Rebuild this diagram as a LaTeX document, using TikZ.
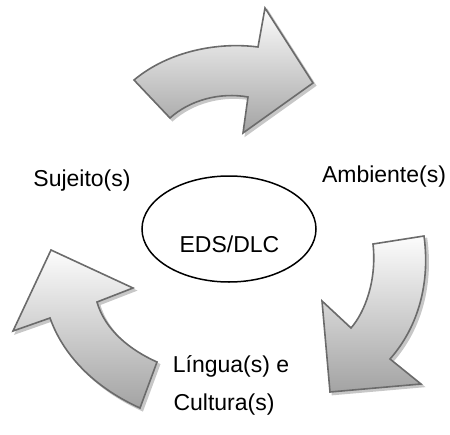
\documentclass[tikz,border=0pt]{standalone}
\usepackage{fontspec}
\setmainfont{Liberation Sans}
\begin{document}
\begin{tikzpicture}[x=1pt,y=-1pt,
  arrowbody/.style={draw=black!58, line width=1.6pt, line join=miter, top color=black!1, bottom color=black!36},
  arrowshadow/.style={fill=black!22, draw=black!22, line width=1.6pt},
  lbl/.style={font=\fontsize{23}{28}\selectfont, anchor=base, inner sep=0pt}]
\useasboundingbox (0,0) rectangle (450,434);
% arrow paths
\def\arrowtop{(134,80) .. controls (170,50) and (220,42) .. (258,47) -- (265,8) -- (313,83) -- (243,133) -- (248,97) .. controls (220,92) and (190,100) .. (170,118) -- cycle}
\def\arrowright{(373,244) -- (424,236) .. controls (430,280) and (420,325) .. (390,359) -- (421,384) -- (330,392) -- (322,301) -- (351,328) .. controls (365,312) and (377,280) .. (373,244) -- cycle}
\def\arrowleft{(51,250) -- (133,288) -- (97,302) .. controls (105,330) and (130,350) .. (157,362) -- (140,408) .. controls (100,390) and (65,360) .. (50,318) -- (13,331) -- cycle}
\begin{scope}[shift={(2.5,2.5)}]
  \path[arrowshadow] \arrowtop;
  \path[arrowshadow] \arrowright;
  \path[arrowshadow] \arrowleft;
\end{scope}
\path[arrowbody] \arrowtop;
\path[arrowbody] \arrowright;
\path[arrowbody] \arrowleft;
% ellipse
\draw[line width=1.5pt] (229,229) ellipse [x radius=87, y radius=53];
% labels
\node[lbl] (suj) at (82,186) {Sujeito(s)};
\node[lbl] (amb) at (384,182) {Ambiente(s)};
\node[lbl] (eds) at (229.5,252) {EDS/DLC};
\node[lbl] (lin) at (231,372) {Língua(s) e};
\node[lbl] (cul) at (224,410) {Cultura(s)};
\end{tikzpicture}
\end{document}
